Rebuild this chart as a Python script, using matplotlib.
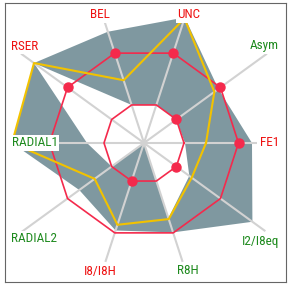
import numpy as np
import matplotlib
matplotlib.use("Agg")
import matplotlib.pyplot as plt
from matplotlib import font_manager

# axes of the radar, counter-clockwise starting at 3 o'clock
names = ['FE1', 'Asym', 'UNC', 'BEL', 'RSER', 'RADIAL1', 'RADIAL2', 'I8/I8H', 'R8H', 'I2/I8eq']
band_max = [108, 92, 132, 117, 136, 132, 80, 92, 94, 134]
band_min = [41, 40, 40, 40, 136, 57, 40, 0, 79, 56]
measured = [62, 87, 131, 66, 136, 132, 61, 86, 80, 59]
upper_lim = [94.5] * 10
lower_lim = [40] * 10
upper_hit = ['FE1', 'Asym', 'UNC', 'BEL', 'RSER']
lower_hit = ['Asym', 'I8/I8H', 'I2/I8eq']
bad = ['FE1', 'UNC', 'BEL', 'RSER', 'I8/I8H']

# layout (pixel units, center = 0,0)
spoke_len = [113, 152, 128, 128, 152, 130, 152, 125, 125, 150]
lab_xy = [(135, 0, 'right'), (135, 97, 'right'), (45, 128, 'center'), (-44, 128, 'center'),
          (-133, 97, 'left'), (-132, 0, 'left'), (-133, -96, 'left'), (-44, -128, 'center'),
          (44, -128, 'center'), (135, -98, 'right')]

# narrow label font if one is installed
fonts = font_manager.fontManager.ttflist
names_avail = {f.name for f in fonts}
lab_font = dict(family='Liberation Sans', fontsize=8.0)
for cand in ['Liberation Sans Narrow', 'Arial Narrow', 'Roboto Condensed', 'Open Sans Condensed']:
    if cand in names_avail:
        lab_font = dict(family=cand, fontsize=9.5)
        break
else:
    cond = [f for f in fonts if f.name in ('DejaVu Sans', 'Open Sans', 'Roboto', 'Noto Sans')
            and 'condensed' in str(f.stretch).lower() and f.weight in (400, 'normal', 'regular')]
    if cond:
        lab_font = dict(family=cond[0].name, fontstretch='condensed', fontsize=9.0)

ang = np.deg2rad(np.arange(len(names)) * 36.0)


def xy(r):
    r = np.asarray(r, dtype=float)
    return r * np.cos(ang), r * np.sin(ang)


def closed(a):
    return np.append(a, a[0])


RED = '#f42a4c'
fig = plt.figure(figsize=(2.88, 2.88), dpi=100)
ax = fig.add_axes([5 / 288, 6 / 288, 281 / 288, 279 / 288])
ax.set_xlim(-139, 142)
ax.set_ylim(-139, 140)
ax.set_xticks([])
ax.set_yticks([])
for s in ax.spines.values():
    s.set_color('#666666')
    s.set_linewidth(0.8)

x, y = xy(band_max)
ax.fill(x, y, color='#7f98a0', lw=0, zorder=1)
x, y = xy(band_min)
ax.fill(x, y, color='white', lw=0, zorder=1.5)

for i in range(len(names)):
    ax.plot([0, spoke_len[i] * np.cos(ang[i])], [0, spoke_len[i] * np.sin(ang[i])],
            color='#d2d2d2', lw=1.5, zorder=2, solid_capstyle='butt')

x, y = xy(upper_lim)
ax.plot(closed(x), closed(y), color=RED, lw=1.2, zorder=3)
idx = [names.index(n) for n in upper_hit]
ax.plot(x[idx], y[idx], 'o', color=RED, ms=6.5, zorder=5)
x, y = xy(lower_lim)
ax.plot(closed(x), closed(y), color=RED, lw=1.2, zorder=3)
idx = [names.index(n) for n in lower_hit]
ax.plot(x[idx], y[idx], 'o', color=RED, ms=6.5, zorder=5)

x, y = xy(measured)
ax.plot(closed(x), closed(y), color='#f2c200', lw=1.5, zorder=4)

for i, n in enumerate(names):
    lx, ly, ha = lab_xy[i]
    ax.text(lx, ly, n, ha=ha, va='center',
            color='#ee1111' if n in bad else '#1e8a1e',
            bbox=dict(facecolor='white', edgecolor='none', pad=1), zorder=6, **lab_font)

fig.savefig('out.png', dpi=100)
